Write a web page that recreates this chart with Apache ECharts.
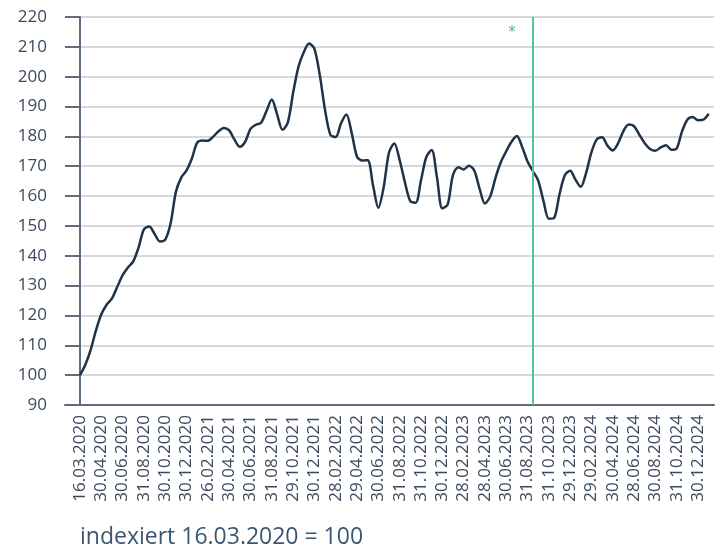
<!DOCTYPE html>
<html>
<head>
<meta charset="utf-8">
<script src="https://cdn.jsdelivr.net/npm/echarts@6/dist/echarts.min.js"></script>
<style>
  html, body { margin: 0; padding: 0; background: #fff; }
  #chart { width: 723px; height: 554px; }
</style>
</head>
<body>
<div id="chart"></div>
<script>
// tick dates on the x axis (one per label slot)
var dateLabels = ['16.03.2020','30.04.2020','30.06.2020','31.08.2020','30.10.2020','30.12.2020',
    '26.02.2021','30.04.2021','30.06.2021','31.08.2021','29.10.2021','30.12.2021',
    '28.02.2022','29.04.2022','30.06.2022','31.08.2022','31.10.2022','30.12.2022',
    '28.02.2023','28.04.2023','30.06.2023','31.08.2023','31.10.2023','29.12.2023',
    '29.02.2024','30.04.2024','28.06.2024','30.08.2024','31.10.2024','30.12.2024'];

// index values, 4 samples per label slot
var indexValues = [
    100,103.5,108.5,115,120.4,123.6,125.7,129.6,133.5,136.1,
    138.1,142.8,148.9,149.8,147.3,144.8,145.4,150.8,161.4,166.2,
    168.6,172.6,177.9,178.6,178.5,179.9,181.7,182.8,182.0,178.9,
    176.5,178.2,182.5,183.9,184.6,188.5,192.4,187.4,182.2,184.6,
    194.6,203.3,208.2,211.1,209.3,200.6,188.8,180.5,179.8,184.4,
    187.3,181.1,173.2,171.9,172.0,163.6,156.1,163,174.6,177.6,
    172,164.5,158.3,157.8,165.2,173.1,175.4,166.3,155.9,157.1,
    167,169.7,168.9,170.2,168.6,162.5,157.5,159.9,166.2,171.4,
    175.0,178.2,180.1,176.4,171.6,168.4,165.2,158.3,152.4,152.7,
    160.6,167,168.5,165.5,163.1,167.8,174.7,179,179.7,176.9,
    175.3,177.7,181.8,184,183.4,180.5,177.7,175.8,175.2,176.3,
    177,175.5,176,181.7,185.6,186.5,185.4,185.6,187.6
];
var samplesPerSlot = 4;

var yMin = 90, yMax = 220, yStep = 10;
var markerPos = 21.26;          // green vertical line (slot units)
var starPos = [20.22, 216.3];   // asterisk annotation
var caption = 'indexiert 16.03.2020 = 100';

var seriesData = indexValues.map(function (v, i) { return [i / samplesPerSlot, v]; });
var slotIdx = dateLabels.map(function (d, i) { return i; });

var textColor = '#3b4a5c';
var labelFont = 'Open Sans';

var option = {
    animation: false,
    grid: { left: 65, right: 9, top: 17, bottom: 149 },
    xAxis: {
        type: 'value',
        min: -0.704,
        max: 29.75,
        axisLine: { show: true, lineStyle: { color: '#5d6b7c', width: 2 } },
        axisTick: { show: false },
        splitLine: { show: false },
        axisLabel: {
            customValues: slotIdx,
            rotate: 90,
            margin: 10,
            color: textColor,
            fontFamily: labelFont,
            fontSize: 17,
            formatter: function (v) { return dateLabels[Math.round(v)]; }
        }
    },
    yAxis: [{
        type: 'value',
        min: yMin, max: yMax, interval: yStep,
        axisLine: { show: true, lineStyle: { color: '#5d6b7c', width: 2 } },
        axisTick: { show: true, length: 11, lineStyle: { color: '#5d6b7c', width: 2 } },
        splitLine: { show: true, lineStyle: { color: '#d5d8dd', width: 2 } },
        axisLabel: { margin: 18, color: textColor, fontFamily: labelFont, fontSize: 17 }
    }, {
        type: 'value',
        position: 'left',
        min: yMin, max: yMax, interval: yStep,
        axisLine: { show: false },
        axisTick: { show: true, inside: true, length: 11, lineStyle: { color: '#5d6b7c', width: 2 } },
        splitLine: { show: false },
        axisLabel: { show: false }
    }],
    series: [{
        type: 'line',
        data: seriesData,
        showSymbol: false,
        smooth: 0.3,
        lineStyle: { color: '#1f3247', width: 2.5 },
        markLine: {
            silent: true,
            symbol: 'none',
            label: { show: false },
            lineStyle: { color: '#4fc59c', width: 2, type: 'solid' },
            data: [{ xAxis: markerPos }]
        },
        markPoint: {
            silent: true,
            symbol: 'circle',
            symbolSize: 0,
            label: {
                show: true,
                formatter: '*',
                color: '#4fb594',
                fontSize: 15,
                fontFamily: 'DejaVu Sans',
                offset: [1, 5]
            },
            data: [{ coord: starPos }]
        }
    }],
    graphic: [{
        type: 'text',
        left: 80,
        top: 526,
        style: {
            text: caption,
            fontFamily: 'Open Sans',
            fontSize: 23,
            fill: '#3d5670'
        }
    }]
};

var chart = echarts.init(document.getElementById('chart'));
chart.setOption(option);
</script>
</body>
</html>
